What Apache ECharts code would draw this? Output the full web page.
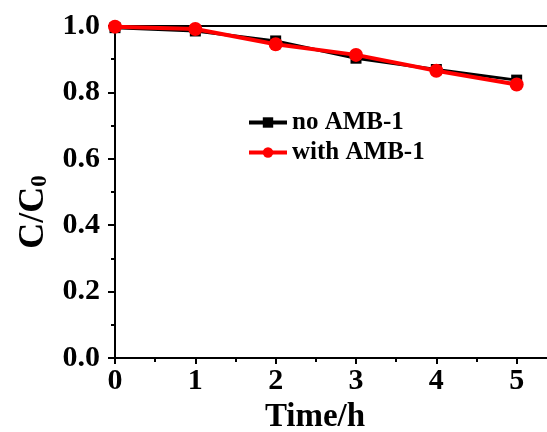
<!DOCTYPE html>
<html>
<head>
<meta charset="utf-8">
<script src="https://cdn.jsdelivr.net/npm/echarts@6/dist/echarts.min.js"></script>
<style>
  html, body { margin: 0; padding: 0; background: #fff; }
  #main { width: 547px; height: 432px; }
</style>
</head>
<body>
<div id="main"></div>
<script>
// data
var times = [0, 1, 2, 3, 4, 5];
var noAMB = [0.995, 0.985, 0.955, 0.903, 0.869, 0.837];
var withAMB = [0.998, 0.991, 0.945, 0.913, 0.865, 0.824];
var seriesNames = ['no AMB-1', 'with AMB-1'];

function pairs(xs, ys) {
    return xs.map(function (x, i) { return [x, ys[i]]; });
}

var font = "'Liberation Serif', 'Times New Roman', serif";

var myChart = echarts.init(document.getElementById('main'));
var option = {
    backgroundColor: '#fff',
    animation: false,
    grid: {
        left: 115,
        top: 26,
        bottom: 74,
        right: -50,
        containLabel: false,
        outerBoundsMode: 'none',
        show: true,
        borderColor: '#000',
        borderWidth: 2,
        backgroundColor: 'transparent'
    },
    legend: {
        orient: 'vertical',
        left: 247,
        top: 110,
        padding: 0,
        itemWidth: 38,
        itemHeight: 13,
        itemGap: 5,
        data: [
            { name: seriesNames[0], lineStyle: { width: 4 } },
            { name: seriesNames[1], lineStyle: { width: 4 } }
        ],
        textStyle: { fontFamily: font, fontWeight: 'bold', fontSize: 25, color: '#000' }
    },
    xAxis: {
        type: 'value',
        min: 0,
        max: 6,
        interval: 1,
        name: 'Time/h',
        nameLocation: 'middle',
        nameGap: 39,
        nameTextStyle: { fontFamily: font, fontWeight: 'bold', fontSize: 33, color: '#000', padding: [0, 82, 0, 0] },
        axisLine: { show: true, lineStyle: { color: '#000', width: 2 } },
        axisTick: { show: true, length: 6, lineStyle: { color: '#000', width: 2 } },
        minorTick: { show: true, splitNumber: 2, length: 4, lineStyle: { color: '#000', width: 2 } },
        splitLine: { show: false },
        axisLabel: {
            margin: 8,
            fontFamily: font, fontWeight: 'bold', fontSize: 30, color: '#000',
            formatter: function (v) { return v > 5 ? '' : String(v); }
        }
    },
    yAxis: {
        type: 'value',
        min: 0,
        max: 1,
        interval: 0.2,
        name: '{a|C/C}{b|0}',
        nameLocation: 'middle',
        nameGap: 60,
        nameTextStyle: {
            padding: [0, 40, 0, 0],
            rich: {
                a: { fontFamily: font, fontWeight: 'bold', fontSize: 36, color: '#000', lineHeight: 36, verticalAlign: 'top' },
                b: { fontFamily: font, fontWeight: 'bold', fontSize: 23, color: '#000', lineHeight: 23, verticalAlign: 'bottom', padding: [20, 0, 0, 0] }
            }
        },
        axisLine: { show: true, lineStyle: { color: '#000', width: 2 } },
        axisTick: { show: true, length: 7, lineStyle: { color: '#000', width: 2 } },
        minorTick: { show: true, splitNumber: 2, length: 4, lineStyle: { color: '#000', width: 2 } },
        splitLine: { show: false },
        axisLabel: {
            margin: 15,
            fontFamily: font, fontWeight: 'bold', fontSize: 30, color: '#000',
            formatter: function (v) { return v.toFixed(1); }
        }
    },
    series: [
        {
            name: seriesNames[0],
            type: 'line',
            data: pairs(times, noAMB),
            symbol: 'rect',
            symbolSize: 11,
            color: '#000',
            lineStyle: { color: '#000', width: 3 },
            itemStyle: { color: '#000' }
        },
        {
            name: seriesNames[1],
            type: 'line',
            data: pairs(times, withAMB),
            symbol: 'circle',
            symbolSize: 14,
            color: '#ff0000',
            lineStyle: { color: '#ff0000', width: 4 },
            itemStyle: { color: '#ff0000' }
        }
    ]
};
myChart.setOption(option);
</script>
</body>
</html>
